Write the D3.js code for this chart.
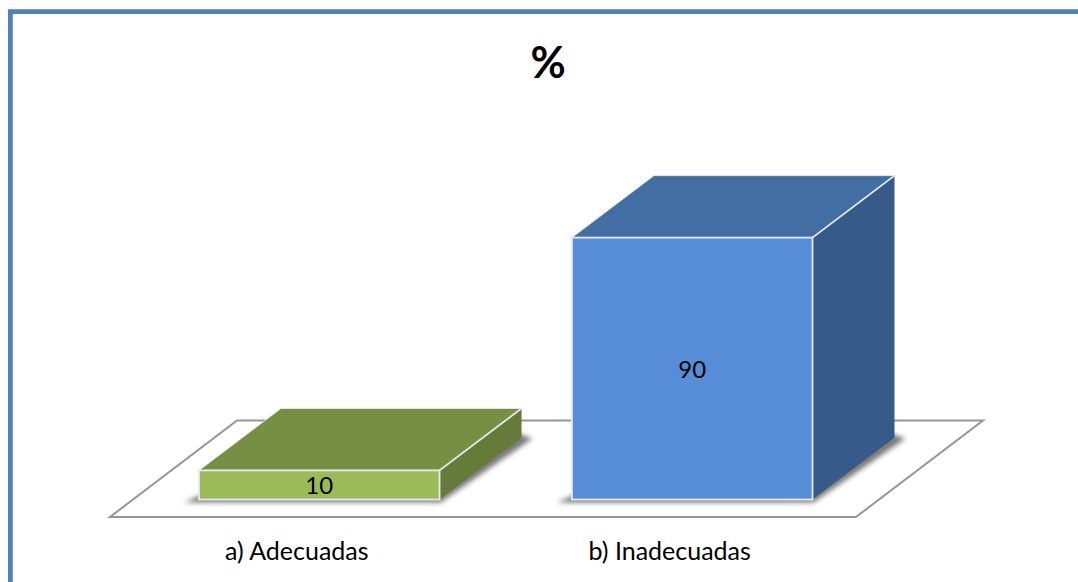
<!DOCTYPE html>
<html><head><meta charset="utf-8">
<script src="https://cdn.jsdelivr.net/npm/d3@7/dist/d3.min.js"></script>
<style>html,body{margin:0;padding:0;background:#fff;overflow:hidden}svg{display:block}text{font-family:Lato,"Noto Sans",sans-serif;fill:#000}</style>
</head><body><svg id="c" width="1078" height="582"></svg>
<script>
const categories = ["a) Adecuadas", "b) Inadecuadas"];
const values = [10, 90];
const frontColors = ["#9bbb59", "#568dd6"];
const topColors = ["#778f43", "#436ea3"];
const sideColors = ["#667a39", "#365b8a"];
const title = "%";

const svg = d3.select("#c");
const dx = 82, dy = -62;
const x = d3.scaleBand().domain(categories).range([199, 812.5]).paddingInner(0.355).paddingOuter(0);
const y = d3.scaleLinear().domain([0, 100]).range([499.5, 208.5]);
const line = d3.line();

const defs = svg.append("defs");
const f = defs.append("filter").attr("id", "blur").attr("x", "-20%").attr("y", "-20%").attr("width", "140%").attr("height", "140%");
f.append("feGaussianBlur").attr("stdDeviation", 2.6);

// frame
svg.append("path").attr("d", "M10.4,582V11.6H1078").attr("fill", "none").attr("stroke", "#4f81bd").attr("stroke-width", 4.8);

// title
svg.append("text").attr("x", 548).attr("y", 77.5).attr("text-anchor", "middle").attr("font-size", 43).attr("font-weight", 700).text(title);

// floor
svg.append("path").attr("d", line([[110, 517], [856, 517], [983, 420.5], [237, 420.5]]) + "Z")
  .attr("fill", "#fff").attr("stroke", "#969696").attr("stroke-width", 2);

const g = svg.selectAll("g.bar").data(categories).join("g").attr("class", "bar");

// shadows
g.append("path")
  .attr("d", (c) => {
    const l = x(c), r = l + x.bandwidth(), b = y(0);
    return line([[l - 15, b + 3], [r + 1, b + 3], [r + dx + 11, b + dy + 1], [r + dx - 10, b + dy - 6], [l + 10, b - 8]]) + "Z";
  })
  .attr("fill", "#7a7a7a").attr("filter", "url(#blur)");

const edge = "#e4e9f0";
// side
g.append("path").attr("d", (c) => {
    const r = x(c) + x.bandwidth(), t = y(values[categories.indexOf(c)]), b = y(0);
    return line([[r, b], [r + dx, b + dy], [r + dx, t + dy], [r, t]]) + "Z";
  })
  .attr("fill", (c, i) => sideColors[i]);
// top
g.append("path").attr("d", (c) => {
    const l = x(c), r = l + x.bandwidth(), t = y(values[categories.indexOf(c)]);
    return line([[l, t], [r, t], [r + dx, t + dy], [l + dx, t + dy]]) + "Z";
  })
  .attr("fill", (c, i) => topColors[i]).attr("stroke", edge).attr("stroke-width", 1);
// front
g.append("rect").attr("x", (c) => x(c)).attr("y", (c, i) => y(values[i]))
  .attr("width", x.bandwidth()).attr("height", (c, i) => y(0) - y(values[i]))
  .attr("fill", (c, i) => frontColors[i]).attr("stroke", edge).attr("stroke-width", 1.8);
// ridge line
g.append("path").attr("d", (c, i) => {
    const r = x(c) + x.bandwidth(), t = y(values[i]);
    return line([[r, t], [r + dx, t + dy]]);
  }).attr("stroke", edge).attr("stroke-width", 1.8).attr("fill", "none");

// value labels
g.append("text").attr("x", (c) => x(c) + x.bandwidth() / 2)
  .attr("y", (c, i) => (y(values[i]) + y(0)) / 2 + 9)
  .attr("text-anchor", "middle").attr("font-size", 24).text((c, i) => values[i]);

// category labels
g.append("text").attr("x", (c) => x(c) + x.bandwidth() / 2 - 22.5).attr("y", 560)
  .attr("text-anchor", "middle").attr("font-size", 25).text((c) => c);
</script></body></html>
